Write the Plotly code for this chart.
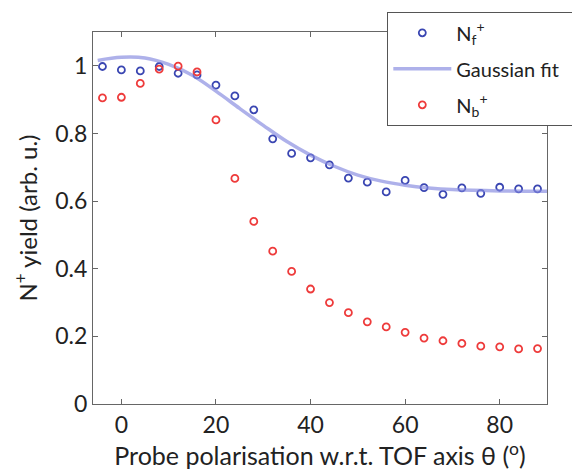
import plotly.graph_objects as go

# Probe polarisation angle (degrees)
theta = [-4, 0, 4, 8, 12, 16, 20, 24, 28, 32, 36, 40,
         44, 48, 52, 56, 60, 64, 68, 72, 76, 80, 84, 88]

# Forward N+ yield
n_forward = [0.998, 0.988, 0.985, 0.998, 0.978, 0.973, 0.943, 0.911, 0.870, 0.784, 0.741, 0.728,
             0.707, 0.668, 0.656, 0.627, 0.661, 0.640, 0.620, 0.639, 0.623, 0.641, 0.636, 0.636]

# Backward N+ yield
n_backward = [0.905, 0.907, 0.948, 0.990, 0.999, 0.982, 0.840, 0.667, 0.540, 0.452, 0.392, 0.340,
              0.300, 0.270, 0.243, 0.228, 0.212, 0.195, 0.187, 0.179, 0.171, 0.169, 0.163, 0.164]

# Gaussian fit to the forward yield, sampled along the angle axis
fit_theta = [-5, 0, 5, 10, 15, 20, 25, 30, 35, 40, 45, 50, 55, 60, 65, 70, 80, 90]
fit_yield = [1.016, 1.025, 1.023, 1.004, 0.972, 0.925, 0.874, 0.824, 0.776, 0.736,
             0.703, 0.677, 0.659, 0.647, 0.639, 0.634, 0.630, 0.629]

x_ticks = [0, 20, 40, 60, 80]
y_ticks = [0, 0.2, 0.4, 0.6, 0.8, 1]

FONT = "Lato"
BLUE = "#3a46b2"
RED = "#ee3b3b"
AXIS = "#666666"
TEXT = "#222222"
PAD = "\u00a0" * 2  # a little trailing space widens the legend frame

fig = go.Figure()

fig.add_trace(go.Scatter(
    x=theta, y=n_forward, mode="markers",
    name="N<sub>f</sub><sup>+</sup>", legendgroup="f",
    marker=dict(symbol="circle-open", size=7, color=BLUE, line=dict(width=1.8, color=BLUE)),
))
fig.add_trace(go.Scatter(
    x=fit_theta, y=fit_yield, mode="lines", line_shape="spline",
    name="Gaussian fit" + PAD, legendgroup="fit",
    line=dict(color="rgba(130,135,222,0.65)", width=3.5),
))
fig.add_trace(go.Scatter(
    x=theta, y=n_backward, mode="markers",
    name="N<sub>b</sub><sup>+</sup>", legendgroup="b",
    marker=dict(symbol="circle-open", size=7, color=RED, line=dict(width=1.8, color=RED)),
))

axis_common = dict(
    showline=True, linecolor=AXIS, linewidth=1.3, mirror="ticks",
    ticks="inside", ticklen=5, tickwidth=1, tickcolor=AXIS,
    showgrid=False, zeroline=False,
    tickfont=dict(family=FONT, size=23, color=TEXT),
)

fig.update_xaxes(
    range=[-6, 90], tickvals=x_ticks,
    title=dict(text="Probe polarisation w.r.t. TOF axis θ (<sup>o</sup>)",
               font=dict(family=FONT, size=25, color=TEXT), standoff=9),
    **axis_common,
)
fig.update_yaxes(
    range=[0, 1.1], tickvals=y_ticks, ticktext=["0", "0.2", "0.4", "0.6", "0.8", "1"],
    title=dict(text="N<sup>+</sup> yield (arb. u.)",
               font=dict(family=FONT, size=24, color=TEXT), standoff=10),
    **axis_common,
)

fig.update_layout(
    width=572, height=474,
    margin=dict(l=93, r=25, t=32, b=70, autoexpand=False),
    plot_bgcolor="white", paper_bgcolor="white",
    legend=dict(
        x=0.6476, y=1.0538, xanchor="left", yanchor="top",
        bgcolor="white", bordercolor="#555555", borderwidth=1.3,
        font=dict(family=FONT, size=20, color=TEXT),
        itemwidth=58, traceorder="grouped", tracegroupgap=7,
    ),
)

fig.write_html("out.html")
